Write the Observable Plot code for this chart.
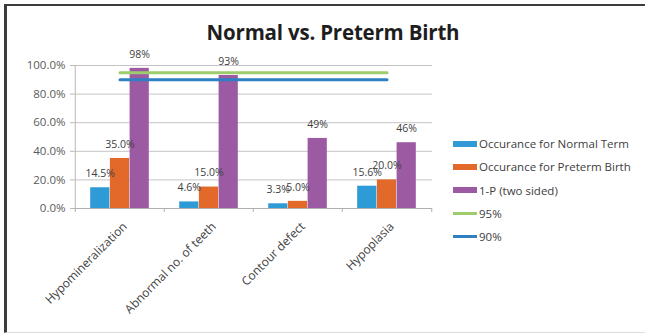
<!DOCTYPE html>
<html><head><meta charset="utf-8">
<script src="https://cdn.jsdelivr.net/npm/d3@7"></script>
<script src="https://cdn.jsdelivr.net/npm/@observablehq/plot@0.6"></script>
<style>
body{margin:0;background:#fff;}
#wrap{position:relative;width:645px;height:335px;overflow:hidden;font-family:"Open Sans",sans-serif;background:#fff;}
#frame{position:absolute;left:4px;top:4px;width:680px;height:329px;border-left:3px solid #3c3c3c;border-top:2px solid #3c3c3c;border-bottom:1px solid #dcdcdc;box-sizing:border-box;}
#title{position:absolute;left:0;width:666px;top:18px;text-align:center;font-weight:bold;font-size:20.5px;color:#1e1e1e;letter-spacing:-0.2px;}
#chart{position:absolute;left:0;top:0;}
#legend{position:absolute;left:453px;top:132px;font-size:11.5px;color:#404040;}
.item{display:flex;align-items:center;height:23.3px;white-space:nowrap;}
.sw{width:24px;margin-right:2px;}
</style></head>
<body>
<div id="wrap">
  <div id="frame"></div>
  <div id="chart"></div>
  <div id="title">Normal vs. Preterm Birth</div>
  <div id="legend"></div>
</div>
<script>
const categories = ["Hypomineralization", "Abnormal no. of teeth", "Contour defect", "Hypoplasia"];
const normalTerm = [14.5, 4.6, 3.3, 15.6];
const pretermBirth = [35.0, 15.0, 5.0, 20.0];
const onePTwoSided = [98, 93, 49, 46];
const normalLabels = ["14.5%", "4.6%", "3.3%", "15.6%"];
const pretermLabels = ["35.0%", "15.0%", "5.0%", "20.0%"];
const onePLabels = ["98%", "93%", "49%", "46%"];
const seriesNames = ["Occurance for Normal Term", "Occurance for Preterm Birth", "1-P (two sided)"];
const seriesColors = ["#2e9ad6", "#e2692a", "#9b5aa2"];
const thresholdNames = ["95%", "90%"];
const thresholdValues = [95, 90];
const thresholdColors = ["#9dcc6c", "#2f7fc3"];
const yTicks = [0, 20, 40, 60, 80, 100];

const W = 645, H = 335, ML = 74, MR = 213, MT = 65, MB = 127;
const bw = (W - ML - MR) / categories.length;
const barW = 19.7;
const groupLeft = bw / 2 - 1.5 * barW;

const seriesValues = [normalTerm, pretermBirth, onePTwoSided];
const seriesLabels = [normalLabels, pretermLabels, onePLabels];

const marks = [
  Plot.gridY(yTicks, {stroke: "#c4c4c4", strokeOpacity: 1}),
  Plot.axisY(yTicks, {tickFormat: d => d.toFixed(1) + "%", tickSize: 4, tickPadding: 5, stroke: "#b8b8b8", fill: "#5a5a5a", fontSize: 11.5, label: null}),
  Plot.ruleX(categories.slice(0, 1), {x: d => d, dx: -bw / 2, stroke: "#b8b8b8"}),
  Plot.ruleY([0], {stroke: "#b0b0b0"}),
  Plot.ruleX(categories, {x: d => d, y1: 0, y2: 0, dx: -bw / 2, insetBottom: -4, stroke: "#b0b0b0"}),
  Plot.ruleX(categories.slice(-1), {x: d => d, y1: 0, y2: 0, dx: bw / 2, insetBottom: -4, stroke: "#b0b0b0"})
];

seriesValues.forEach((vals, i) => {
  const data = categories.map((c, j) => ({c, v: vals[j], label: seriesLabels[i][j]}));
  const left = groupLeft + i * barW;
  marks.push(Plot.barY(data, {x: "c", y: "v", fill: seriesColors[i], insetLeft: left, insetRight: bw - left - barW}));
});

thresholdValues.forEach((t, i) => {
  const data = [{c: categories[0], v: t}, {c: categories[categories.length - 1], v: t}];
  marks.push(Plot.lineY(data, {x: "c", y: "v", stroke: thresholdColors[i], strokeWidth: 3}));
});

seriesValues.forEach((vals, i) => {
  const data = categories.map((c, j) => ({c, v: vals[j], label: seriesLabels[i][j]}));
  const off = groupLeft + (i + 0.5) * barW - bw / 2;
  marks.push(Plot.text(data, {x: "c", y: "v", text: "label", dx: off, dy: -14, fill: "#404040", fontSize: 10.5}));
});

marks.push(Plot.text(categories, {x: d => d, y: () => 0, text: d => d, rotate: -45, textAnchor: "end", dx: 5, dy: 16, fill: "#404040", fontSize: 12}));

const chart = Plot.plot({
  width: W, height: H,
  marginLeft: ML, marginRight: MR, marginTop: MT, marginBottom: MB,
  style: {fontFamily: "Open Sans, sans-serif", background: "transparent", overflow: "visible"},
  x: {type: "band", domain: categories, padding: 0, axis: null},
  y: {domain: [0, 100], axis: null},
  marks
});
document.getElementById("chart").appendChild(chart);

const legend = document.getElementById("legend");
seriesNames.forEach((n, i) => {
  legend.insertAdjacentHTML("beforeend", `<div class="item"><div class="sw" style="height:6px;background:${seriesColors[i]}"></div>${n}</div>`);
});
thresholdNames.forEach((n, i) => {
  legend.insertAdjacentHTML("beforeend", `<div class="item"><div class="sw" style="height:3px;background:${thresholdColors[i]}"></div>${n}</div>`);
});
</script>
</body></html>
